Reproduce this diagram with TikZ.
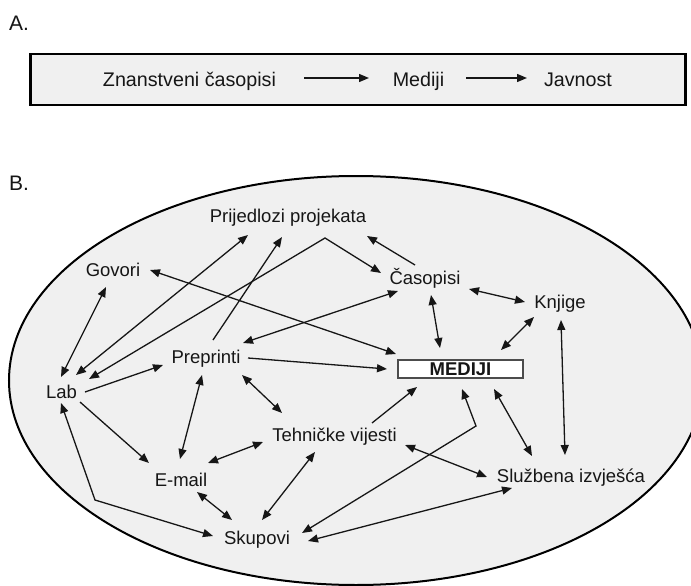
\documentclass[tikz,border=0pt]{standalone}
\usepackage{fontspec}
\setmainfont{Liberation Sans}
\usetikzlibrary{arrows.meta,calc}
\definecolor{fillg}{RGB}{240,240,240}
\definecolor{txt}{RGB}{22,22,22}
\begin{document}
\begin{tikzpicture}[x=1pt,y=-1pt,
  lbl/.style={anchor=base,inner sep=0pt,font=\fontsize{18.5}{22}\selectfont,text=txt},
  albl/.style={anchor=base,inner sep=0pt,font=\fontsize{19.7}{23}\selectfont,text=txt},
  sec/.style={anchor=base west,inner sep=0pt,font=\fontsize{21}{24}\selectfont,text=txt},
  con/.style={line width=1.3pt,draw=txt},
  tip/.tip={Triangle[length=10pt,width=8pt]},
  dbl/.style={con,tip-tip},
  one/.style={con,-tip},
]
\useasboundingbox (0,0) rectangle (691,586);
\fill[white] (0,0) rectangle (691,586);
\clip (0,0) rectangle (691,586);

% ---------- A ----------
\node[sec] (la) at (9,31) {A.};
\node[draw=black,line width=2.2pt,fill=fillg,minimum width=655pt,minimum height=51pt,inner sep=0pt] (boxA) at (358,79.5) {};
\node[albl] (zc) at (189.5,86) {Znanstveni časopisi};
\node[albl] (mA) at (418.5,86) {Mediji};
\node[albl] (jA) at (578,86) {Javnost};
\draw[one,line width=1.4pt] ($(zc.base)+(114.5,-8)$) -- ($(mA.base)+(-49.5,-8)$);
\draw[one,line width=1.4pt] ($(mA.base)+(47.5,-8)$) -- ($(jA.base)+(-51,-8)$);

% ---------- B ----------
\node[sec] (lb) at (9,190) {B.};
\draw[line width=2pt,fill=fillg] (356,380.5) ellipse [x radius=347pt, y radius=204.5pt];

\node[lbl] (prij) at (288,222) {Prijedlozi projekata};
\node[lbl] (gov) at (113,276) {Govori};
\node[lbl] (prep) at (206,363) {Preprinti};
\node[lbl] (lab) at (61.5,398) {Lab};
\node[lbl] (cas) at (425,284) {Časopisi};
\node[lbl] (knj) at (560,308) {Knjige};
\node[draw=black!70,line width=2.2pt,fill=white,minimum width=125pt,minimum height=18pt,inner sep=0pt,
      font=\bfseries\fontsize{18.5}{22}\selectfont,text=txt] (med) at (460.5,369) {MEDIJI};
\node[lbl] (teh) at (334.5,441) {Tehničke vijesti};
\node[lbl] (email) at (181,486) {E-mail};
\node[lbl] (sku) at (257,544) {Skupovi};
\node[lbl] (slu) at (571,482) {Službena izvješća};

\draw[dbl] ($(gov.base)+(-7,11)$) -- ($(lab.base)+(-0.5,-21)$);
\draw[dbl] ($(lab.base)+(14.5,-23)$) -- ($(prij.base)+(-40,13)$);
\draw[dbl] ($(lab.base)+(27.5,-19)$) -- ($(prij.base)+(37,16)$) -- ($(cas.base)+(-44,-11)$);
\draw[one] ($(prep.base)+(7,-23)$) -- ($(prij.base)+(-6,15)$);
\draw[dbl] ($(gov.base)+(37,-6)$) -- ($(med.center)+(-64.5,-15)$);
\draw[dbl] ($(cas.base)+(-27,7)$) -- ($(prep.base)+(37,-20)$);
\draw[one] ($(prep.base)+(42,-5)$) -- ($(med.center)+(-73.5,0)$);
\draw[one] ($(lab.base)+(23.5,-6)$) -- ($(prep.base)+(-43,2)$);
\draw[dbl] ($(cas.base)+(44,5)$) -- ($(knj.base)+(-35,-6)$);
\draw[dbl] ($(cas.base)+(6,11)$) -- ($(med.center)+(-20.5,-21)$);
\draw[dbl] ($(knj.base)+(-26,9)$) -- ($(med.center)+(40.5,-19)$);
\draw[dbl] ($(knj.base)+(1,12)$) -- ($(slu.base)+(-6,-27)$);
\draw[one] ($(teh.base)+(37.5,-18)$) -- ($(med.center)+(-43.5,18)$);
\draw[dbl] ($(sku.base)+(45,-11)$) -- ($(med.center)+(15.5,57)$) -- ($(med.center)+(1.5,20)$);
\draw[dbl] ($(med.center)+(33.5,20)$) -- ($(slu.base)+(-39,-26)$);
\draw[dbl] ($(teh.base)+(70.5,4)$) -- ($(slu.base)+(-84,-5)$);
\draw[dbl] ($(sku.base)+(51,-3)$) -- ($(slu.base)+(-59,6)$);
\draw[one] ($(lab.base)+(18.5,4)$) -- ($(email.base)+(-32,-23)$);
\draw[dbl] ($(lab.base)+(-0.5,5)$) -- ($(lab.base)+(33.5,102)$) -- ($(sku.base)+(-44,-8)$);
\draw[dbl] ($(prep.base)+(-4,12)$) -- ($(email.base)+(-1,-27)$);
\draw[dbl] ($(prep.base)+(36,12)$) -- ($(teh.base)+(-52.5,-28)$);
\draw[dbl] ($(email.base)+(27,-23)$) -- ($(teh.base)+(-71.5,1)$);
\draw[dbl] ($(email.base)+(16,6)$) -- ($(sku.base)+(-25,-24)$);
\draw[dbl] ($(teh.base)+(-19.5,11)$) -- ($(sku.base)+(5,-24)$);
\draw[one] ($(cas.base)+(-10,-19)$) -- ($(prij.base)+(79,14)$);
\end{tikzpicture}
\end{document}
